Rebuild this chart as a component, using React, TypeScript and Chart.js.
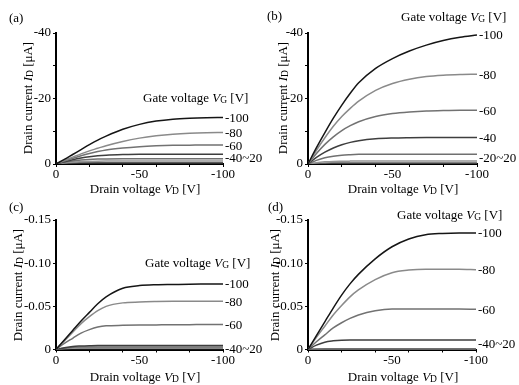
import React, { useEffect, useRef } from 'react';
import { Chart, registerables } from 'chart.js';

Chart.register(...registerables);

const W = 519;
const H = 385;
const FONT = "'Liberation Serif', 'Times New Roman', serif";

// ---------- data ----------
const drainVoltage = [0, -5, -10, -15, -20, -25, -30, -40, -50, -60, -70, -80, -90, -100];
const gateVoltage = [-100, -80, -60, -40, -20, 0, 20];
const gateColors = ['#151515', '#8a8a8a', '#727272', '#3e3e3e', '#707070', '#959595', '#5a5a5a'];

const xTickValues = [0, -20, -40, -50, -60, -80, -100];
const xTickLabels = [0, -50, -100];
const topYTicks = [0, -10, -20, -30, -40];
const topYLabels = [0, -20, -40];
const bottomYTicks = [0, -0.05, -0.1, -0.15];

// (a) drain current [uA]
const aId100 = [0, -1.4, -2.9, -4.4, -5.9, -7.3, -8.5, -10.6, -12.1, -13.1, -13.7, -14.0, -14.15, -14.2];
const aId80 = [0, -1.1, -2.1, -3.1, -4.0, -4.8, -5.6, -6.9, -7.9, -8.6, -9.1, -9.4, -9.55, -9.6];
const aId60 = [0, -0.9, -1.7, -2.5, -3.2, -3.8, -4.3, -4.9, -5.3, -5.55, -5.7, -5.75, -5.8, -5.8];
const aId40 = [0, -0.7, -1.3, -1.8, -2.2, -2.5, -2.7, -2.9, -3.0, -3.0, -3.0, -3.0, -3.0, -3.0];
const aId20 = [0, -0.5, -0.9, -1.2, -1.4, -1.5, -1.55, -1.6, -1.6, -1.6, -1.6, -1.6, -1.6, -1.6];
const aId0 = [0, -0.35, -0.6, -0.72, -0.8, -0.85, -0.88, -0.9, -0.9, -0.9, -0.9, -0.9, -0.9, -0.9];
const aIdP20 = [0, -0.2, -0.3, -0.35, -0.38, -0.4, -0.4, -0.4, -0.4, -0.4, -0.4, -0.4, -0.4, -0.4];

// (b) drain current [uA]
const bId100 = [0, -5.0, -9.6, -14.0, -18.0, -21.6, -24.8, -29.2, -32.2, -34.5, -36.3, -37.7, -38.7, -39.4];
const bId80 = [0, -4.2, -8.0, -11.5, -14.5, -17.0, -19.2, -22.5, -24.6, -25.9, -26.7, -27.1, -27.3, -27.4];
const bId60 = [0, -3.2, -6.0, -8.3, -10.2, -11.7, -12.9, -14.5, -15.4, -15.9, -16.2, -16.3, -16.4, -16.4];
const bId40 = [0, -2.0, -3.6, -4.9, -5.9, -6.6, -7.1, -7.7, -7.95, -8.05, -8.1, -8.1, -8.1, -8.1];
const bId20 = [0, -1.1, -1.9, -2.4, -2.7, -2.85, -2.95, -3.0, -3.0, -3.0, -3.0, -3.0, -3.0, -3.0];
const bId0 = [0, -0.4, -0.65, -0.8, -0.85, -0.88, -0.9, -0.9, -0.9, -0.9, -0.9, -0.9, -0.9, -0.9];
const bIdP20 = [0, -0.15, -0.25, -0.28, -0.3, -0.3, -0.3, -0.3, -0.3, -0.3, -0.3, -0.3, -0.3, -0.3];

// (c) drain current [uA]
const cId100 = [0, -0.011, -0.022, -0.033, -0.043, -0.053, -0.061, -0.071, -0.074, -0.075, -0.0753, -0.0756, -0.0758, -0.076];
const cId80 = [0, -0.010, -0.020, -0.030, -0.038, -0.045, -0.050, -0.054, -0.055, -0.0555, -0.0558, -0.056, -0.056, -0.056];
const cId60 = [0, -0.007, -0.013, -0.019, -0.023, -0.026, -0.0275, -0.028, -0.0283, -0.0285, -0.0287, -0.0288, -0.029, -0.029];
const cId40 = [0, -0.002, -0.0035, -0.004, -0.0043, -0.0045, -0.0045, -0.0045, -0.0045, -0.0045, -0.0045, -0.0045, -0.0045, -0.0045];
const cId20 = [0, -0.0015, -0.0025, -0.003, -0.003, -0.003, -0.003, -0.003, -0.003, -0.003, -0.003, -0.003, -0.003, -0.003];
const cId0 = [0, -0.001, -0.0015, -0.0018, -0.0018, -0.0018, -0.0018, -0.0018, -0.0018, -0.0018, -0.0018, -0.0018, -0.0018, -0.0018];
const cIdP20 = [0, -0.0005, -0.0008, -0.0008, -0.0008, -0.0008, -0.0008, -0.0008, -0.0008, -0.0008, -0.0008, -0.0008, -0.0008, -0.0008];

// (d) drain current [uA]
const dId100 = [0, -0.016, -0.032, -0.048, -0.063, -0.076, -0.087, -0.105, -0.119, -0.128, -0.133, -0.1345, -0.135, -0.135];
const dId80 = [0, -0.014, -0.027, -0.040, -0.051, -0.061, -0.069, -0.081, -0.089, -0.092, -0.093, -0.093, -0.093, -0.0925];
const dId60 = [0, -0.009, -0.017, -0.025, -0.031, -0.036, -0.040, -0.045, -0.047, -0.047, -0.047, -0.047, -0.0468, -0.0465];
const dId40 = [0, -0.005, -0.0085, -0.010, -0.0108, -0.011, -0.011, -0.011, -0.011, -0.011, -0.011, -0.011, -0.011, -0.011];
const dId20 = [0, -0.0006, -0.0008, -0.0008, -0.0008, -0.0008, -0.0008, -0.0008, -0.0008, -0.0008, -0.0008, -0.0008, -0.0008, -0.0008];
const dId0 = [0, -0.0003, -0.0004, -0.0004, -0.0004, -0.0004, -0.0004, -0.0004, -0.0004, -0.0004, -0.0004, -0.0004, -0.0004, -0.0004];
const dIdP20 = [0, -0.0001, -0.0001, -0.0001, -0.0001, -0.0001, -0.0001, -0.0001, -0.0001, -0.0001, -0.0001, -0.0001, -0.0001, -0.0001];

const curveLabelsA = ['-100', '-80', '-60', '-40~20'];
const curveLabelsB = ['-100', '-80', '-60', '-40', '-20~20'];
const curveLabelsC = ['-100', '-80', '-60', '-40~20'];
const curveLabelsD = ['-100', '-80', '-60', '-40~20'];

// ---------- text ----------
type Seg = { t: string; it?: boolean; sub?: boolean };
const xTitle: Seg[] = [{ t: 'Drain voltage ' }, { t: 'V', it: true }, { t: 'D', sub: true }, { t: ' [V]' }];
const yTitle: Seg[] = [{ t: 'Drain current ' }, { t: 'I', it: true }, { t: 'D', sub: true }, { t: ' [\u03bcA]' }];
const gateTitle: Seg[] = [{ t: 'Gate voltage ' }, { t: 'V', it: true }, { t: 'G', sub: true }, { t: ' [V]' }];

function segFont(s: Seg) {
  return `${s.it ? 'italic ' : ''}${s.sub ? 9.5 : 13}px ${FONT}`;
}
function drawRich(ctx: CanvasRenderingContext2D, segs: Seg[], x: number, y: number, align: 'left' | 'center') {
  let w = 0;
  for (const s of segs) {
    ctx.font = segFont(s);
    w += ctx.measureText(s.t).width;
  }
  let cx = align === 'center' ? x - w / 2 : x;
  ctx.textAlign = 'left';
  ctx.textBaseline = 'alphabetic';
  for (const s of segs) {
    ctx.font = segFont(s);
    ctx.fillText(s.t, cx, y + 4.5 + (s.sub ? 1.5 : 0));
    cx += ctx.measureText(s.t).width;
  }
}

// ---------- layout ----------
type PanelDef = {
  key: string;
  tag: string;
  series: number[][];
  labels: string[];
  bottom: boolean;
  area: { l: number; r: number; t: number; b: number };
  tagPos: { x: number; y: number };
  gatePos: { x: number; y: number };
  xTitlePos: { x: number; y: number };
  yTitlePos: { x: number; y: number };
};

const panels: PanelDef[] = [
  {
    key: 'a', tag: '(a)', series: [aId100, aId80, aId60, aId40, aId20, aId0, aIdP20], labels: curveLabelsA, bottom: false,
    area: { l: 56, r: 223, t: 33, b: 164 },
    tagPos: { x: 9, y: 17 }, gatePos: { x: 143, y: 97 }, xTitlePos: { x: 145, y: 188 }, yTitlePos: { x: 27, y: 98 },
  },
  {
    key: 'b', tag: '(b)', series: [bId100, bId80, bId60, bId40, bId20, bId0, bIdP20], labels: curveLabelsB, bottom: false,
    area: { l: 308, r: 477, t: 33, b: 164 },
    tagPos: { x: 267, y: 15 }, gatePos: { x: 401, y: 16 }, xTitlePos: { x: 403, y: 188 }, yTitlePos: { x: 282, y: 98 },
  },
  {
    key: 'c', tag: '(c)', series: [cId100, cId80, cId60, cId40, cId20, cId0, cIdP20], labels: curveLabelsC, bottom: true,
    area: { l: 56, r: 223, t: 220, b: 349.5 },
    tagPos: { x: 9, y: 206 }, gatePos: { x: 145, y: 262 }, xTitlePos: { x: 145, y: 376 }, yTitlePos: { x: 17, y: 285 },
  },
  {
    key: 'd', tag: '(d)', series: [dId100, dId80, dId60, dId40, dId20, dId0, dIdP20], labels: curveLabelsD, bottom: true,
    area: { l: 308, r: 476, t: 220, b: 349.5 },
    tagPos: { x: 268, y: 206 }, gatePos: { x: 397, y: 214 }, xTitlePos: { x: 403, y: 376 }, yTitlePos: { x: 274, y: 285 },
  },
];

function annotate(p: PanelDef) {
  return {
    id: 'annotate_' + p.key,
    afterDraw(chart: any) {
      const ctx: CanvasRenderingContext2D = chart.ctx;
      const area = chart.chartArea;
      const yScale = chart.scales.y;
      ctx.save();
      ctx.fillStyle = '#000';
      drawRich(ctx, [{ t: p.tag }], p.tagPos.x, p.tagPos.y, 'left');
      drawRich(ctx, gateTitle, p.gatePos.x, p.gatePos.y, 'left');
      drawRich(ctx, xTitle, p.xTitlePos.x, p.xTitlePos.y, 'center');
      ctx.save();
      ctx.translate(p.yTitlePos.x, p.yTitlePos.y);
      ctx.rotate(-Math.PI / 2);
      drawRich(ctx, yTitle, 0, 0, 'center');
      ctx.restore();
      p.labels.forEach((lab, k) => {
        const ys = p.series[k];
        const yPix = yScale.getPixelForValue(ys[ys.length - 1]) + (lab.includes('~') ? 3 : 0);
        drawRich(ctx, [{ t: lab }], area.right + 2, yPix, 'left');
      });
      ctx.restore();
    },
  };
}

function buildConfig(p: PanelDef): any {
  const Y_W = 45;
  const X_H = 30;
  const tickFont = { family: FONT, size: 13 };
  return {
    type: 'line',
    data: {
      datasets: p.series.map((ys, i) => ({
        label: String(gateVoltage[i]),
        data: drainVoltage.map((x, j) => ({ x, y: ys[j] })),
        borderColor: gateColors[i],
        borderWidth: 1.5,
        pointRadius: 0,
        fill: false,
        cubicInterpolationMode: 'monotone',
      })),
    },
    options: {
      animation: false,
      responsive: false,
      devicePixelRatio: 1,
      layout: {
        padding: { left: p.area.l - Y_W, top: p.area.t, right: W - p.area.r, bottom: H - p.area.b - X_H },
      },
      plugins: { legend: { display: false }, tooltip: { enabled: false } },
      scales: {
        x: {
          type: 'linear',
          min: -100,
          max: 0,
          reverse: true,
          afterBuildTicks: (s: any) => { s.ticks = xTickValues.map((v) => ({ value: v })); },
          afterFit: (s: any) => { s.height = X_H; },
          ticks: {
            autoSkip: false,
            maxRotation: 0,
            padding: 0,
            color: '#000',
            font: tickFont,
            callback: (v: number) => (xTickLabels.includes(v) ? String(v) : ''),
          },
          grid: {
            drawOnChartArea: false,
            tickLength: 3,
            tickWidth: 1,
            tickColor: (c: any) => (c.tick && c.tick.value === -50 ? 'rgba(0,0,0,0)' : '#000'),
          },
          border: { display: true, color: '#000', width: 2 },
        },
        y: {
          type: 'linear',
          min: p.bottom ? -0.15 : -40,
          max: 0,
          reverse: true,
          afterBuildTicks: (s: any) => { s.ticks = (p.bottom ? bottomYTicks : topYTicks).map((v) => ({ value: v })); },
          afterFit: (s: any) => { s.width = Y_W; },
          ticks: {
            autoSkip: false,
            padding: 2,
            color: '#000',
            font: tickFont,
            callback: (v: number) => {
              if (p.bottom) return v === 0 ? '0' : v.toFixed(2);
              return topYLabels.includes(v) ? String(v) : '';
            },
          },
          grid: { drawOnChartArea: false, tickLength: 3, tickWidth: 1, tickColor: '#000' },
          border: { display: true, color: '#000', width: 2 },
        },
      },
    },
    plugins: [annotate(p)],
  };
}

function Panel({ def }: { def: PanelDef }) {
  const ref = useRef<HTMLCanvasElement>(null);
  useEffect(() => {
    const canvas = ref.current;
    if (!canvas) return;
    const chart = new Chart(canvas, buildConfig(def));
    return () => chart.destroy();
  }, [def]);
  return (
    <canvas
      ref={ref}
      width={W}
      height={H}
      style={{ position: 'absolute', left: 0, top: 0, width: W, height: H }}
    />
  );
}

export default function App() {
  return (
    <div style={{ position: 'absolute', left: 0, top: 0, width: W, height: H, background: '#fff', overflow: 'hidden' }}>
      {panels.map((p) => (
        <Panel key={p.key} def={p} />
      ))}
    </div>
  );
}
